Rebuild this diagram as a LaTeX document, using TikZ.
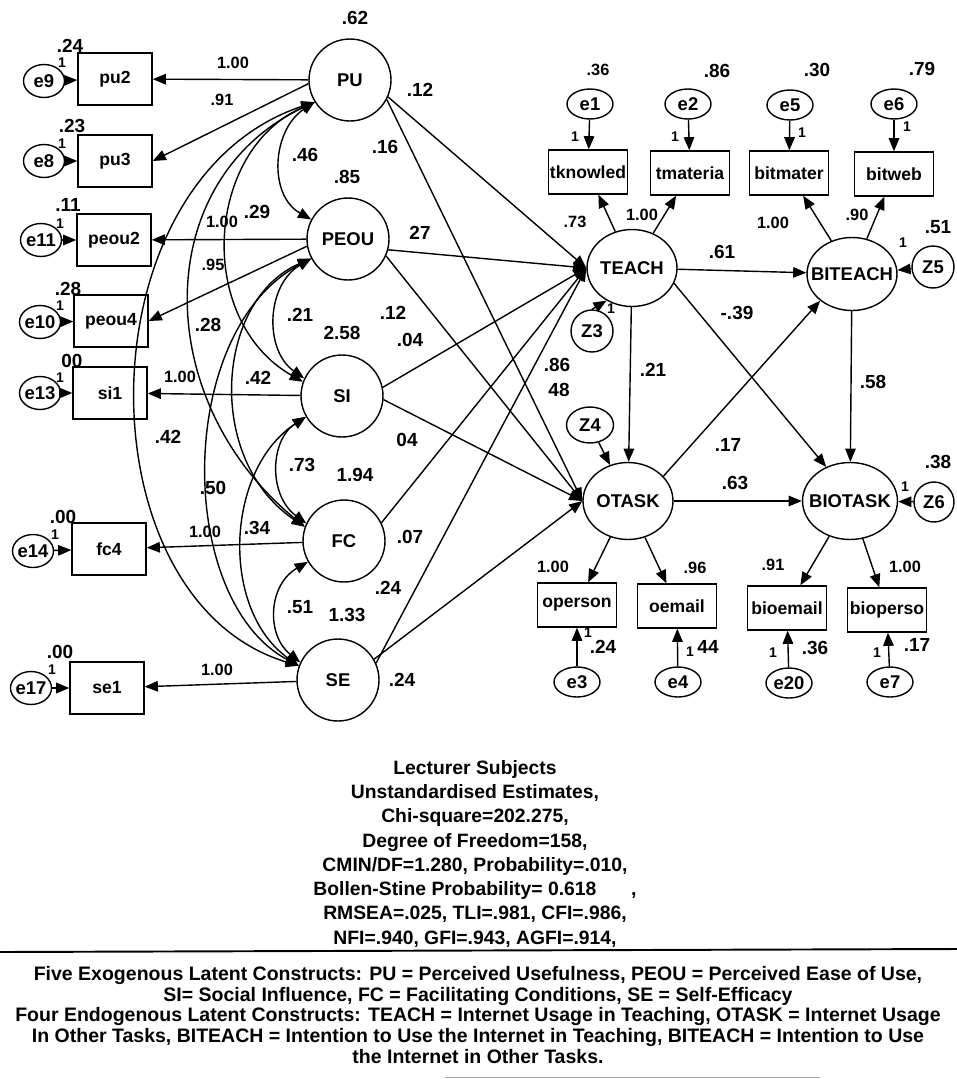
\documentclass[tikz,border=0pt]{standalone}
\usepackage{fontspec}
\setmainfont{Liberation Sans}
\usetikzlibrary{shapes,arrows.meta}

\tikzset{
  lat/.style={circle, draw, line width=0.8pt, minimum size=1.64cm, inner sep=0pt, font=\fontsize{10.5}{12}\selectfont\bfseries},
  endo/.style={ellipse, draw, line width=0.8pt, minimum width=1.8cm, minimum height=1.54cm, inner xsep=-8pt, inner ysep=0pt, font=\fontsize{10.5}{12}\selectfont\bfseries},
  obs/.style={rectangle, draw, line width=0.8pt, minimum width=1.48cm, minimum height=1.04cm, inner sep=0pt, font=\fontsize{10}{12}\selectfont\bfseries},
  obsr/.style={obs, minimum width=1.58cm, minimum height=0.88cm},
  err/.style={ellipse, draw, line width=0.8pt, minimum width=0.82cm, minimum height=0.66cm, inner xsep=-6pt, inner ysep=0pt, font=\fontsize{10.5}{12}\selectfont\bfseries},
  errr/.style={err, minimum width=0.92cm, minimum height=0.6cm},
  dist/.style={circle, draw, line width=0.8pt, minimum size=0.84cm, inner sep=0pt, font=\fontsize{10.5}{12}\selectfont\bfseries},
  reg/.style={line width=0.8pt, -{Triangle[length=7.5pt,width=6pt]}},
  cov/.style={line width=0.8pt, {Triangle[length=7.5pt,width=6pt]}-{Triangle[length=7.5pt,width=6pt]}},
  num/.style={font=\fontsize{10.8}{12}\selectfont\bfseries, inner sep=0pt},
  sm/.style={font=\fontsize{9.3}{11}\selectfont\bfseries, inner sep=0pt},
  one/.style={font=\fontsize{8}{9}\selectfont\bfseries, inner sep=0pt},
  stats/.style={align=center, inner sep=0pt, font=\fontsize{11}{13.8}\selectfont\bfseries},
  legend/.style={align=center, inner sep=0pt, font=\fontsize{11.1}{11.8}\selectfont\bfseries},
}

\begin{document}
\begin{tikzpicture}[x=0.02cm, y=-0.02cm]
  \useasboundingbox (0,0) rectangle (957,1079);

  % exogenous constructs
  \node[lat] (PU)   at (350,80)  {PU};
  \node[lat] (PEOU) at (348,239) {PEOU};
  \node[lat] (SI)   at (342,396) {SI};
  \node[lat] (FC)   at (344,541) {FC};
  \node[lat] (SE)   at (338,680) {SE};

  % their indicators and error terms
  \node[obs] (pu2)   at (115,79)  {pu2};
  \node[obs] (pu3)   at (115,161) {pu3};
  \node[obs] (peou2) at (114,240) {peou2};
  \node[obs] (peou4) at (111,321) {peou4};
  \node[obs] (si1)   at (110,393) {si1};
  \node[obs] (fc4)   at (109,549) {fc4};
  \node[obs] (se1)   at (107,688) {se1};

  \node[err] (e9)  at (44,81)  {e9};
  \node[err] (e8)  at (44,161) {e8};
  \node[err] (e11) at (41,240) {e11};
  \node[err] (e10) at (40,322) {e10};
  \node[err] (e13) at (40,393) {e13};
  \node[err] (e14) at (33,551) {e14};
  \node[err] (e17) at (31,688) {e17};

  \draw[reg] (e9) -- (pu2);
  \draw[reg] (e8) -- (pu3);
  \draw[reg] (e11) -- (peou2);
  \draw[reg] (e10) -- (peou4);
  \draw[reg] (e13) -- (si1);
  \draw[reg] (e14) -- (fc4);
  \draw[reg] (e17) -- (se1);

  \draw[reg] (PU) -- (pu2);
  \draw[reg] (PU.185) -- (pu3.east);
  \draw[reg] (PEOU) -- (peou2);
  \draw[reg] (PEOU.190) -- (peou4.east);
  \draw[reg] (SI) -- (si1);
  \draw[reg] (FC) -- (fc4);
  \draw[reg] (SE) -- (se1);

  % covariances
  \draw[cov] (PU.212) .. controls (272,130) and (268,195) .. (PEOU.152);
  \draw[cov] (PEOU.208) .. controls (266,285) and (264,350) .. (SI.155);
  \draw[cov] (SI.210) .. controls (270,440) and (268,495) .. (FC.155);
  \draw[cov] (FC.210) .. controls (268,585) and (266,635) .. (SE.155);
  \draw[cov] (PU.212) .. controls (205,150) and (195,320) .. (SI.160);
  \draw[cov] (PU.212) .. controls (150,180) and (150,400) .. (FC.160);
  \draw[cov] (PU.212) .. controls (80,180) and (80,600) .. (SE.160);
  \draw[cov] (PEOU.208) .. controls (215,300) and (205,460) .. (FC.160);
  \draw[cov] (PEOU.208) .. controls (175,330) and (175,600) .. (SE.160);
  \draw[cov] (SI.210) .. controls (225,470) and (220,610) .. (SE.160);

  % endogenous constructs
  \node[endo] (TEACH)   at (632,268) {TEACH};
  \node[endo] (OTASK)   at (628,501) {OTASK};
  \node[endo, minimum height=1.46cm] (BITEACH) at (852,274) {BITEACH};
  \node[endo, minimum width=1.9cm] (BIOTASK) at (850,501) {BIOTASK};

  \node[dist] (Z3) at (592,331) {Z3};
  \node[dist, ellipse, minimum width=0.94cm, minimum height=0.72cm] (Z4) at (590,425) {Z4};
  \node[dist] (Z5) at (933,267) {Z5};
  \node[dist, minimum size=0.8cm] (Z6) at (934,502) {Z6};

  \node[obsr] (tknowled) at (588,172) {tknowled};
  \node[obsr] (tmateria) at (690,173) {tmateria};
  \node[obsr] (bitmater) at (789,173) {bitmater};
  \node[obsr] (bitweb)   at (894,174) {bitweb};
  \node[obsr] (operson)  at (577,605) {operson};
  \node[obsr] (oemail)   at (677,606) {oemail};
  \node[obsr] (bioemail) at (787,608) {bioemail};
  \node[obsr] (bioperso) at (887,610) {bioperso};

  \node[errr] (e1)  at (590,104) {e1};
  \node[errr] (e2)  at (688,104) {e2};
  \node[errr] (e5)  at (790,105) {e5};
  \node[errr] (e6)  at (894,104) {e6};
  \node[errr] (e3)  at (577,682) {e3};
  \node[errr] (e4)  at (678,682) {e4};
  \node[errr] (e20) at (789,683) {e20};
  \node[errr] (e7)  at (890,682) {e7};

  \draw[reg] (e1) -- (tknowled);
  \draw[reg] (e2) -- (tmateria);
  \draw[reg] (e5) -- (bitmater);
  \draw[reg] (e6) -- (bitweb);
  \draw[reg] (e3) -- (operson);
  \draw[reg] (e4) -- (oemail);
  \draw[reg] (e20) -- (bioemail);
  \draw[reg] (e7) -- (bioperso);

  \draw[reg] (TEACH) -- (tknowled);
  \draw[reg] (TEACH) -- (tmateria);
  \draw[reg] (BITEACH) -- (bitmater);
  \draw[reg] (BITEACH) -- (bitweb);
  \draw[reg] (OTASK) -- (operson);
  \draw[reg] (OTASK) -- (oemail);
  \draw[reg] (BIOTASK) -- (bioemail);
  \draw[reg] (BIOTASK) -- (bioperso);

  \draw[reg] (Z3.north) -- (TEACH.232);
  \draw[reg] (Z4) -- (OTASK);
  \draw[reg] (Z5) -- (BITEACH);
  \draw[reg] (Z6) -- (BIOTASK);

  % structural paths
  \draw[reg] (PU.-24) -- (TEACH.west);
  \draw[reg] (PU.-28) -- (OTASK.west);
  \draw[reg] (PEOU.-15) -- (TEACH.west);
  \draw[reg] (PEOU.-24) -- (OTASK.west);
  \draw[reg] (SI.12) -- (TEACH.west);
  \draw[reg] (SI.-5) -- (OTASK.west);
  \draw[reg] (FC.26) -- (TEACH.west);
  \draw[reg] (SE.24) -- (TEACH.west);
  \draw[reg] (SE.30) -- (OTASK.west);

  \draw[reg] (TEACH) -- (BITEACH);
  \draw[reg] (TEACH) -- (OTASK);
  \draw[reg] (TEACH.-20) -- (BIOTASK.125);
  \draw[reg] (OTASK.35) -- (BITEACH.220);
  \draw[reg] (OTASK) -- (BIOTASK);
  \draw[reg] (BITEACH) -- (BIOTASK);

  % estimates, left part
  \node[num] (vPU)   at (355,18)  {.62};
  \node[num] (vPEOU) at (347,177) {.85};
  \node[num] (vSI)   at (342,333) {2.58};
  \node[num] (vFC)   at (355,475) {1.94};
  \node[num] (vSE)   at (347,615) {1.33};
  \node[num] (vpu2)   at (70,46)  {.24};
  \node[num] (vpu3)   at (72,126) {.23};
  \node[num] (vpeou2) at (68,205) {.11};
  \node[num] (vpeou4) at (68,289) {.28};
  \node[num] (vsi1)   at (72,361) {00};
  \node[num] (vfc4)   at (63,517) {.00};
  \node[num] (vse1)   at (60,652) {.00};
  \node[one] (o9)  at (62,63)  {1};
  \node[one] (o8)  at (62,144) {1};
  \node[one] (o11) at (60,224) {1};
  \node[one] (o10) at (60,306) {1};
  \node[one] (o13) at (60,378) {1};
  \node[one] (o14) at (55,535) {1};
  \node[one] (o17) at (52,670) {1};
  \node[sm] (lpu2)   at (233,63)  {1.00};
  \node[sm] (lpu3)   at (222,100) {.91};
  \node[sm] (lpeou2) at (222,222) {1.00};
  \node[sm] (lpeou4) at (213,265) {.95};
  \node[sm] (lsi1)   at (180,377) {1.00};
  \node[sm] (lfc4)   at (205,532) {1.00};
  \node[sm] (lse1)   at (217,670) {1.00};
  \node[num] (c1)  at (305,155) {.46};
  \node[num] (c2)  at (257,212) {.29};
  \node[num] (c3)  at (208,325) {.28};
  \node[num] (c4)  at (300,315) {.21};
  \node[num] (c5)  at (258,378) {.42};
  \node[num] (c6)  at (168,437) {.42};
  \node[num] (c7)  at (302,465) {.73};
  \node[num] (c8)  at (213,488) {.50};
  \node[num] (c9)  at (257,528) {.34};
  \node[num] (c10) at (300,607) {.51};
  \node[num] (b1)  at (420,90)  {.12};
  \node[num] (b2)  at (385,147) {.16};
  \node[num] (b3)  at (420,233) {27};
  \node[num] (b4)  at (393,313) {.12};
  \node[num] (b5)  at (410,340) {.04};
  \node[num] (b6)  at (407,440) {04};
  \node[num] (b7)  at (410,537) {.07};
  \node[num] (b8)  at (388,588) {.24};
  \node[num] (b9)  at (402,680) {.24};
  \node[num] (b10) at (557,365) {.86};
  \node[num] (b11) at (559,390) {48};

  % estimates, right part
  \node[sm] (ve1) at (598,70) {.36};
  \node[num] (ve2) at (717,71) {.86};
  \node[num] (ve5) at (817,70) {.30};
  \node[num] (ve6) at (922,69) {.79};
  \node[one] (o1) at (575,137) {1};
  \node[one] (o2) at (675,137) {1};
  \node[one] (o5) at (802,133) {1};
  \node[one] (o6) at (907,127) {1};
  \node[sm] (ltk) at (575,222) {.73};
  \node[sm] (ltm) at (642,215) {1.00};
  \node[sm] (lbm) at (773,223) {1.00};
  \node[sm] (lbw) at (857,215) {.90};
  \node[num] (vZ5) at (938,227) {.51};
  \node[one] (oZ5) at (903,243) {1};
  \node[one] (oZ3) at (611,309) {1};
  \node[num] (p1) at (722,252) {.61};
  \node[num] (p2) at (737,313) {-.39};
  \node[num] (p3) at (653,370) {.21};
  \node[num] (p4) at (873,382) {.58};
  \node[num] (p5) at (728,445) {.17};
  \node[num] (p6) at (735,483) {.63};
  \node[num] (vZ6) at (938,462) {.38};
  \node[one] (oZ6) at (905,487) {1};
  \node[sm] (lop) at (553,567) {1.00};
  \node[sm] (loe) at (695,568) {.96};
  \node[sm] (lbe) at (773,565) {.91};
  \node[sm] (lbp) at (905,567) {1.00};
  \node[one] (o3)  at (588,633) {1};
  \node[num] (ve3) at (603,647) {.24};
  \node[one] (o4)  at (690,652) {1};
  \node[num] (ve4) at (708,647) {44};
  \node[one] (o20) at (773,653) {1};
  \node[num] (ve20) at (815,648) {.36};
  \node[one] (o7)  at (877,653) {1};
  \node[num] (ve7) at (917,645) {.17};

  % fit summary and key
  \node[stats, anchor=north] (fit) at (475,760) {Lecturer Subjects\\
    Unstandardised Estimates,\\
    Chi-square=202.275,\\
    Degree of Freedom=158,\\
    CMIN/DF=1.280, Probability=.010,\\
    Bollen-Stine Probability= 0.618\hspace{1.8em},\\
    RMSEA=.025, TLI=.981, CFI=.986,\\
    NFI=.940, GFI=.943, AGFI=.914,};
  \draw[line width=1.1pt] (0,952) -- (957,949);
  \node[legend, anchor=north] (key) at (478,966) {Five Exogenous Latent Constructs: PU = Perceived Usefulness, PEOU = Perceived Ease of Use,\\
    SI= Social Influence, FC = Facilitating Conditions, SE = Self-Efficacy\\
    Four Endogenous Latent Constructs: TEACH = Internet Usage in Teaching, OTASK = Internet Usage\\
    In Other Tasks, BITEACH = Intention to Use the Internet in Teaching, BITEACH = Intention to Use\\
    the Internet in Other Tasks.};
  \draw[gray!70, line width=0.5pt] (445,1077) -- (820,1077);
\end{tikzpicture}
\end{document}
